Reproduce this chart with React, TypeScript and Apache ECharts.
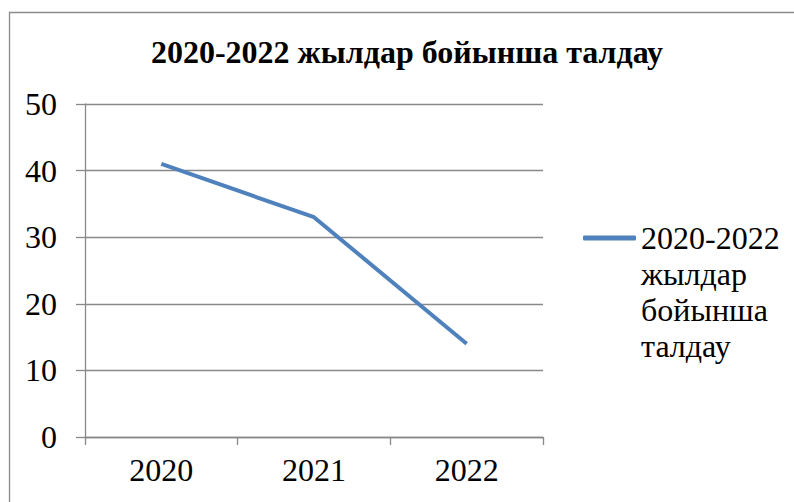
import React, { useEffect, useRef } from "react";
import * as echarts from "echarts";

const titleText = "2020-2022 жылдар бойынша талдау";
const seriesName = "2020-2022 жылдар бойынша талдау";
const legendLines = ["2020-2022", "жылдар", "бойынша", "талдау"];
const categories = ["2020", "2021", "2022"];
const values = [41, 33, 14];
const yMin = 0;
const yMax = 50;
const yInterval = 10;

const FONT = "Liberation Serif";
const LINE_H = 36;
const LEG_Y = 238;

export default function App() {
  const ref = useRef<HTMLDivElement>(null);
  useEffect(() => {
    if (!ref.current) return;
    const chart = echarts.init(ref.current, null, { renderer: "svg" });
    chart.setOption({
      animation: false,
      backgroundColor: "#ffffff",
      textStyle: { fontFamily: FONT },
      title: {
        text: titleText,
        left: 407,
        top: 36,
        padding: 0,
        textAlign: "center",
        textStyle: { fontFamily: FONT, fontSize: 32, fontWeight: "bold", color: "#000" },
      },
      graphic: [
        {
          type: "rect",
          shape: { x: 9.5, y: 12.5, width: 1000, height: 1000 },
          style: { fill: "none", stroke: "#8a8a8a", lineWidth: 1.3 },
          silent: true,
        },
        {
          type: "text",
          x: 641,
          y: LEG_Y + LINE_H / 2,
          silent: true,
          style: {
            text: legendLines.slice(1).join("\n"),
            fontFamily: FONT,
            fontSize: 32,
            lineHeight: LINE_H,
            fill: "#000",
            align: "left",
            verticalAlign: "top",
          },
        },
      ],
      legend: {
        left: 583,
        top: LEG_Y - LINE_H / 2,
        padding: 0,
        orient: "vertical",
        icon: "roundRect",
        itemWidth: 53,
        itemHeight: 5,
        data: [{ name: seriesName, itemStyle: { color: "#4F81BD" } }],
        formatter: () => legendLines[0],
        textStyle: {
          fontFamily: FONT,
          fontSize: 32,
          color: "#000",
          lineHeight: LINE_H,
        },
      },
      grid: { left: 85, right: 251, top: 104, bottom: 65 },
      xAxis: {
        type: "category",
        data: categories,
        boundaryGap: true,
        axisLine: { lineStyle: { color: "#898989", width: 1.3 } },
        axisTick: { show: true, length: 8, lineStyle: { color: "#898989", width: 1.3 } },
        axisLabel: { fontFamily: FONT, fontSize: 32, color: "#000", margin: 17 },
      },
      yAxis: {
        type: "value",
        min: yMin,
        max: yMax,
        interval: yInterval,
        axisLine: { show: true, lineStyle: { color: "#898989", width: 1.3 } },
        axisTick: { show: true, length: 9, lineStyle: { color: "#898989", width: 1.3 } },
        splitLine: { lineStyle: { color: "#898989", width: 1.3 } },
        axisLabel: { fontFamily: FONT, fontSize: 32, color: "#000", margin: 28 },
      },
      series: [
        {
          name: seriesName,
          type: "line",
          data: values,
          symbol: "none",
          lineStyle: { color: "#4F81BD", width: 4 },
          itemStyle: { color: "#4F81BD" },
        },
      ],
    });
    return () => chart.dispose();
  }, []);
  return (
    <div
      ref={ref}
      style={{ position: "fixed", left: 0, top: 0, width: 794, height: 502, background: "#fff" }}
    />
  );
}
